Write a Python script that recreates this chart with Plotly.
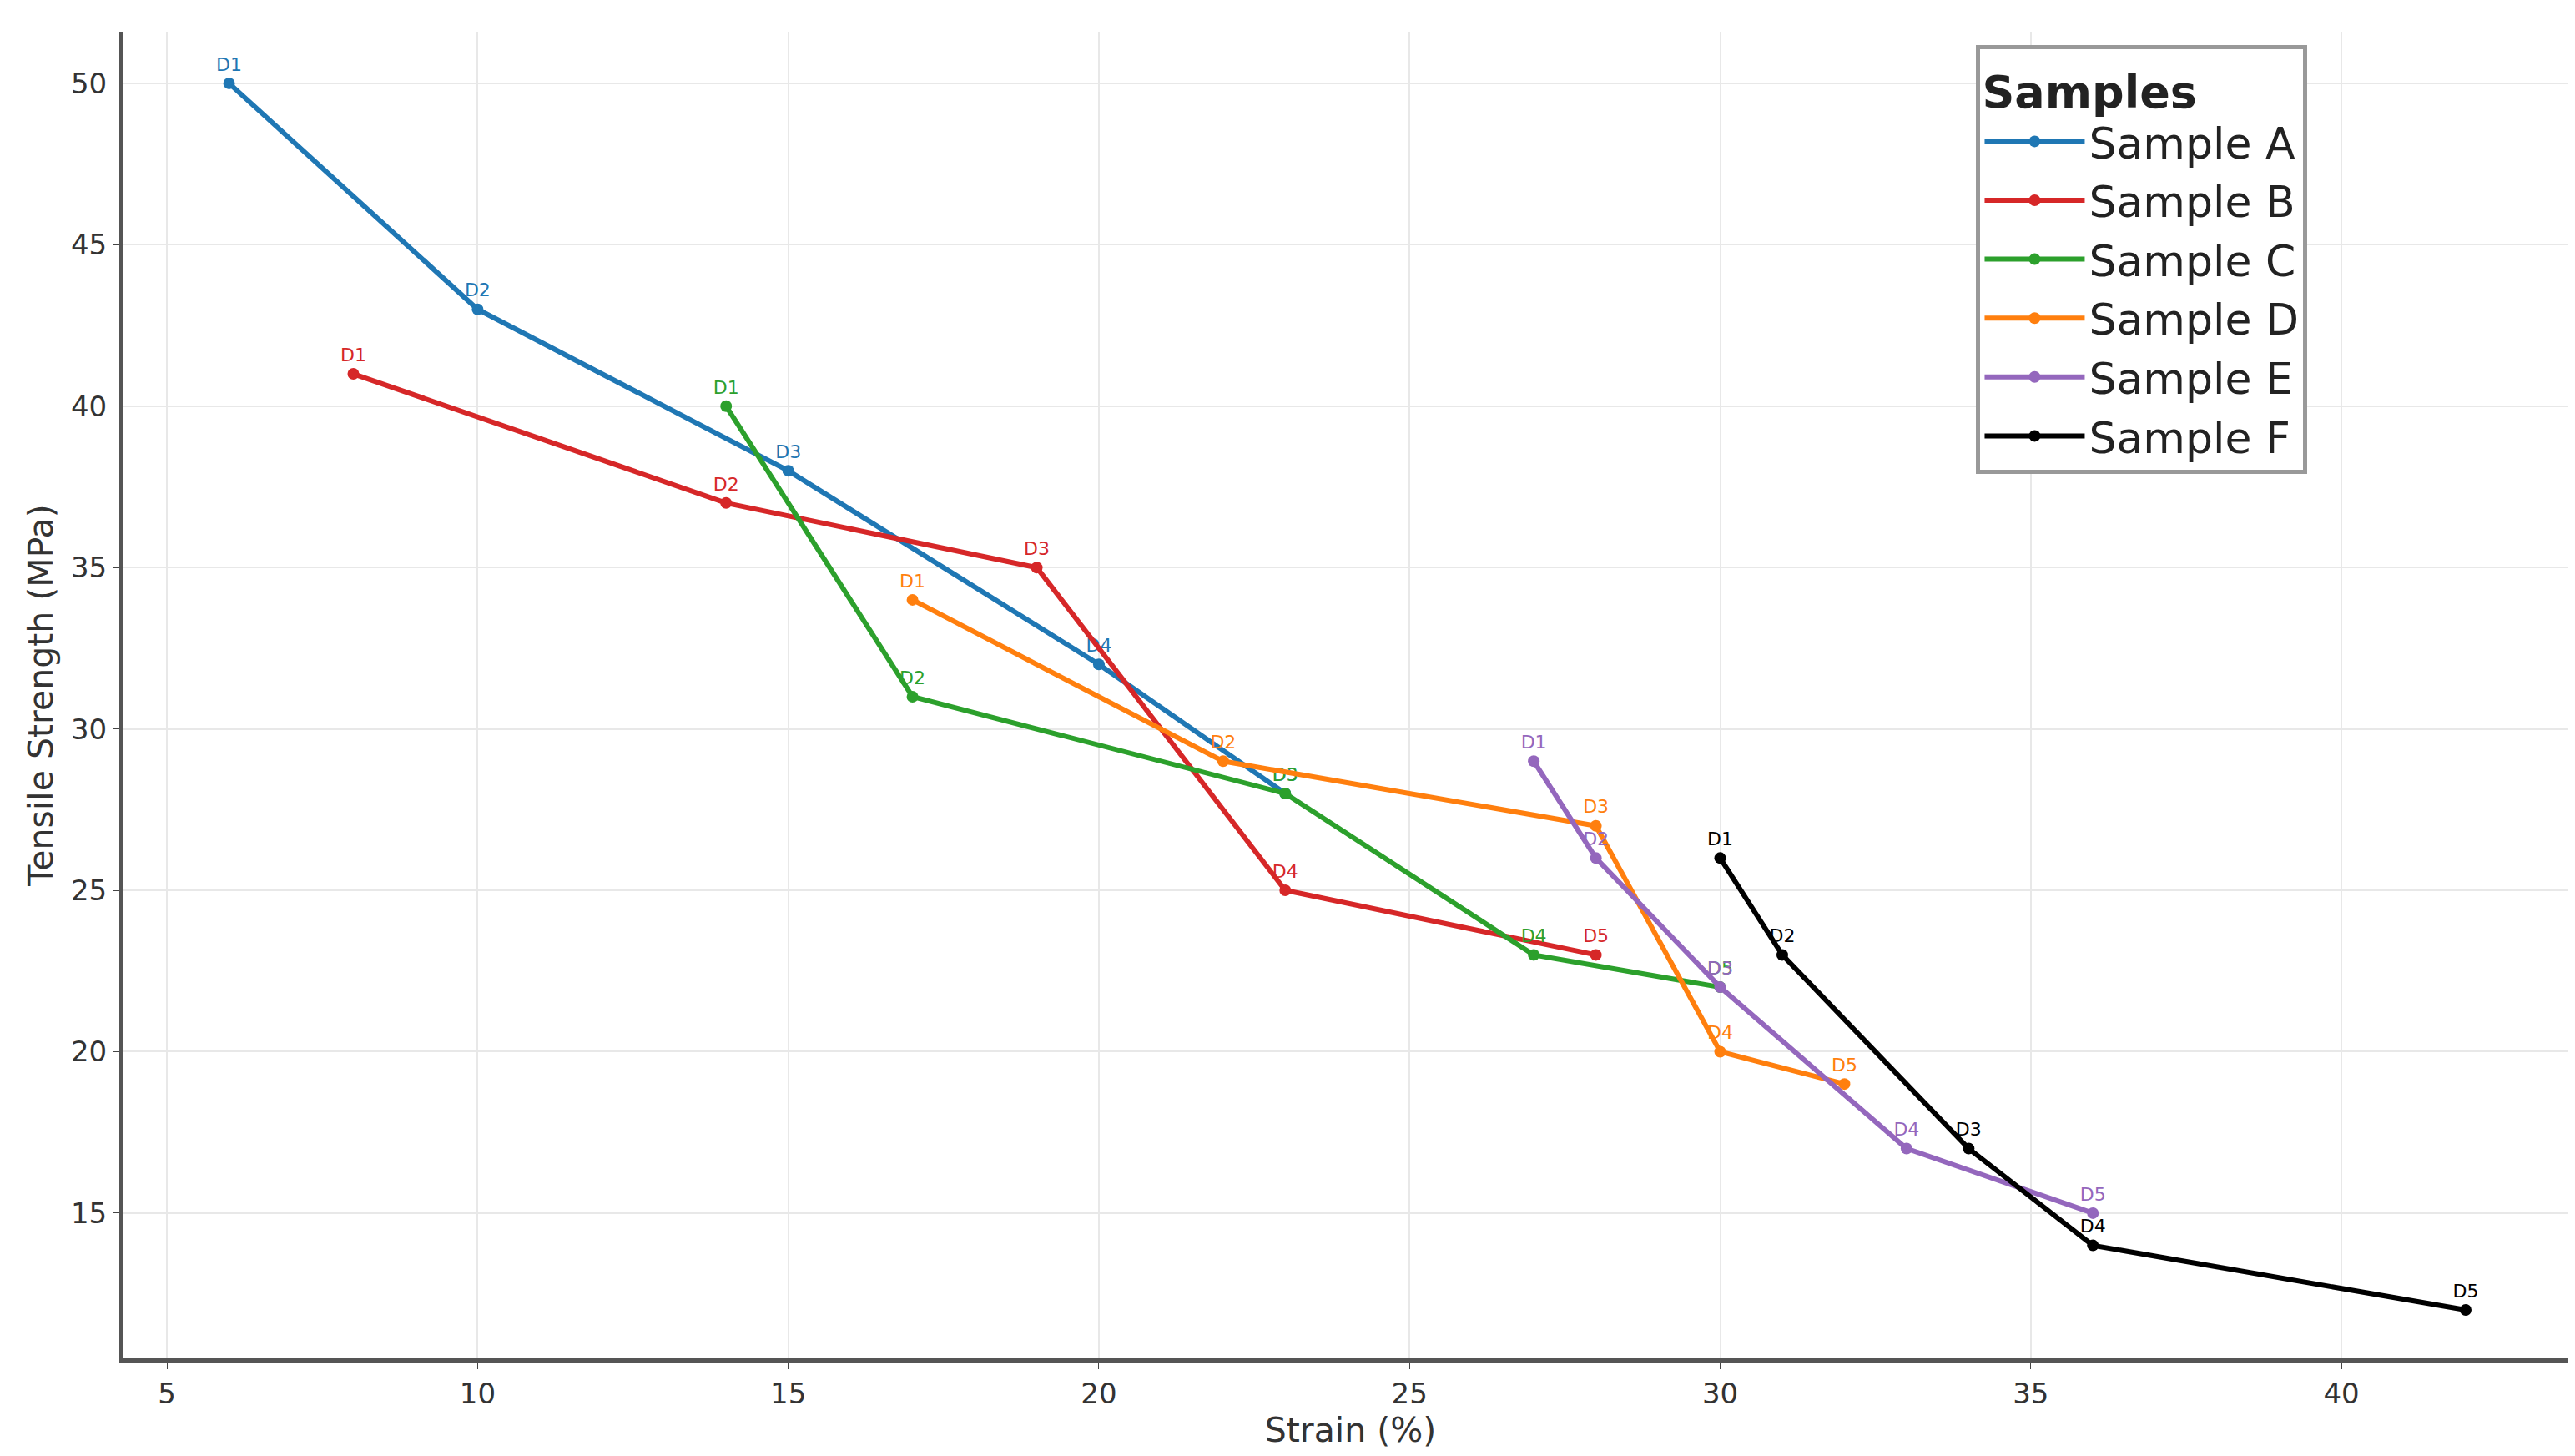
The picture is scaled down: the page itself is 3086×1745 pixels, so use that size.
import plotly.graph_objects as go

samples = ["Sample A", "Sample B", "Sample C", "Sample D", "Sample E", "Sample F"]
colors = ["#1f77b4", "#d62728", "#2ca02c", "#ff7f0e", "#9467bd", "#000000"]
strain_a = [6, 10, 15, 20, 23]
stress_a = [50, 43, 38, 32, 28]
strain_b = [8, 14, 19, 23, 28]
stress_b = [41, 37, 35, 25, 23]
strain_c = [14, 17, 23, 27, 30]
stress_c = [40, 31, 28, 23, 22]
strain_d = [17, 22, 28, 30, 32]
stress_d = [34, 29, 27, 20, 19]
strain_e = [27, 28, 30, 33, 36]
stress_e = [29, 26, 22, 17, 15]
strain_f = [30, 31, 34, 36, 42]
stress_f = [26, 23, 17, 14, 12]
point_labels = ["D1", "D2", "D3", "D4", "D5"]

xs = [strain_a, strain_b, strain_c, strain_d, strain_e, strain_f]
ys = [stress_a, stress_b, stress_c, stress_d, stress_e, stress_f]

fig = go.Figure()
for name, color, x, y in zip(samples, colors, xs, ys):
    fig.add_trace(go.Scatter(
        x=x, y=y, mode="lines+markers+text", name=name,
        text=point_labels, textposition="top center",
        textfont=dict(color=color, size=22, family="DejaVu Sans"),
        line=dict(color=color, width=6),
        marker=dict(color=color, size=14)))

fig.update_layout(
    width=3086, height=1745,
    paper_bgcolor="white", plot_bgcolor="white",
    margin=dict(l=140, r=5, t=30, b=125),
    font=dict(family="DejaVu Sans", size=34, color="#333"),
    legend=dict(
        title=dict(text="<b>Samples</b>", font=dict(size=54, color="#222")),
        font=dict(size=52, color="#222"),
        x=0.755, y=0.99, xanchor="left", yanchor="top",
        bordercolor="#999", borderwidth=5, bgcolor="white",
        itemwidth=120, tracegroupgap=0),
    xaxis=dict(title=dict(text="Strain (%)", standoff=5), range=[4.3, 43.8],
               tickvals=[5, 10, 15, 20, 25, 30, 35, 40],
               showgrid=True, gridcolor="#e8e8e8", gridwidth=2,
               showline=True, linecolor="#555", linewidth=5,
               ticks="outside", ticklen=8, zeroline=False),
    yaxis=dict(title=dict(text="Tensile Strength (MPa)", standoff=10),
               range=[10.5, 51.6], tickvals=[15, 20, 25, 30, 35, 40, 45, 50],
               showgrid=True, gridcolor="#e8e8e8", gridwidth=2,
               showline=True, linecolor="#555", linewidth=5,
               ticks="outside", ticklen=8, zeroline=False),
)

fig.write_html("out.html")
